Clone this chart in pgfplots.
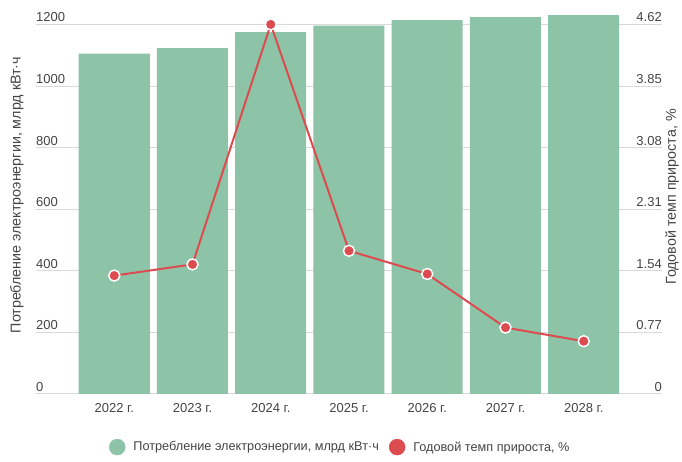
\documentclass[border=0pt]{standalone}
\usepackage{pgfplots}
\pgfplotsset{compat=1.18}
\usepackage{fontspec}
\setmainfont{Liberation Sans}
\definecolor{barg}{HTML}{8DC3A7}
\definecolor{liner}{HTML}{DC4B4F}
\definecolor{gridc}{HTML}{D9D9D9}
\definecolor{txt}{HTML}{444444}
\begin{document}
\begin{tikzpicture}[x=1pt,y=1pt]
\path[use as bounding box] (0,0) rectangle (682,462);
\begin{axis}[
  at={(36pt,68pt)}, anchor=south west,
  scale only axis, width=626pt, height=381.9pt,
  xmin=-1, xmax=7, ymin=0, ymax=1240,
  axis line style={draw=none},
  major tick length=0pt,
  xtick={0,...,6},
  xticklabels={2022 г.,2023 г.,2024 г.,2025 г.,2026 г.,2027 г.,2028 г.},
  xticklabel style={font=\fontsize{13}{15}\selectfont, text=txt, inner sep=0pt, anchor=north, yshift=-9pt},
  ytick={0,200,...,1200},
  ymajorgrids, grid style={gridc, line width=1pt},
  /pgf/number format/assume math mode=true,
  /pgf/number format/1000 sep={},
  yticklabel style={font=\fontsize{13}{15}\selectfont, text=txt, inner sep=0pt, anchor=base west, xshift=0pt, yshift=2.5pt},
  ylabel={Потребление электроэнергии, млрд кВт·ч},
  ylabel style={font=\fontsize{14.3}{16}\selectfont, text=txt, at={(axis description cs:-0.0304,0.521)}, anchor=center},
  legend style={at={(axis description cs:0.486,-0.139)}, anchor=center, draw=none, fill=none,
    legend columns=2, font=\fontsize{12.7}{15}\selectfont, text=txt,
    /tikz/every odd column/.append style={column sep=6pt},
    /tikz/every even column/.append style={column sep=8pt}},
  legend image code/.code={\fill[#1] (0pt,0pt) circle (8pt);},
]
\addplot[ybar, bar width=71pt, bar shift=0pt, fill=barg, draw=none, forget plot]
  coordinates {(0,1105) (1,1123) (2,1175) (3,1196) (4,1214) (5,1224) (6,1230)};
\addlegendimage{barg}
\addlegendentry{Потребление электроэнергии, млрд кВт·ч}
\addlegendimage{liner}
\addlegendentry{Годовой темп прироста, \%}
\end{axis}
\begin{axis}[
  at={(36pt,68pt)}, anchor=south west,
  scale only axis, width=626pt, height=381.9pt,
  xmin=-1, xmax=7, ymin=0, ymax=4.774,
  axis y line*=right, axis x line=none,
  axis line style={draw=none},
  major tick length=0pt,
  ytick={0,0.77,1.54,2.31,3.08,3.85,4.62},
  yticklabels={0,0.77,1.54,2.31,3.08,3.85,4.62},
  yticklabel style={font=\fontsize{13}{15}\selectfont, text=txt, inner sep=0pt, anchor=base east, yshift=2.5pt},
  ylabel={Годовой темп прироста, \%},
  ylabel style={font=\fontsize{14.3}{16}\selectfont, text=txt, at={(axis description cs:1.016,0.516)}, anchor=center},
  clip=false,
]
\addplot[liner, line width=2pt, mark=*, mark size=5.5pt, mark options={fill=liner, draw=white, line width=1.5pt}]
  coordinates {(0,1.48) (1,1.62) (2,4.62) (3,1.79) (4,1.50) (5,0.83) (6,0.66)};
\end{axis}
\end{tikzpicture}
\end{document}
